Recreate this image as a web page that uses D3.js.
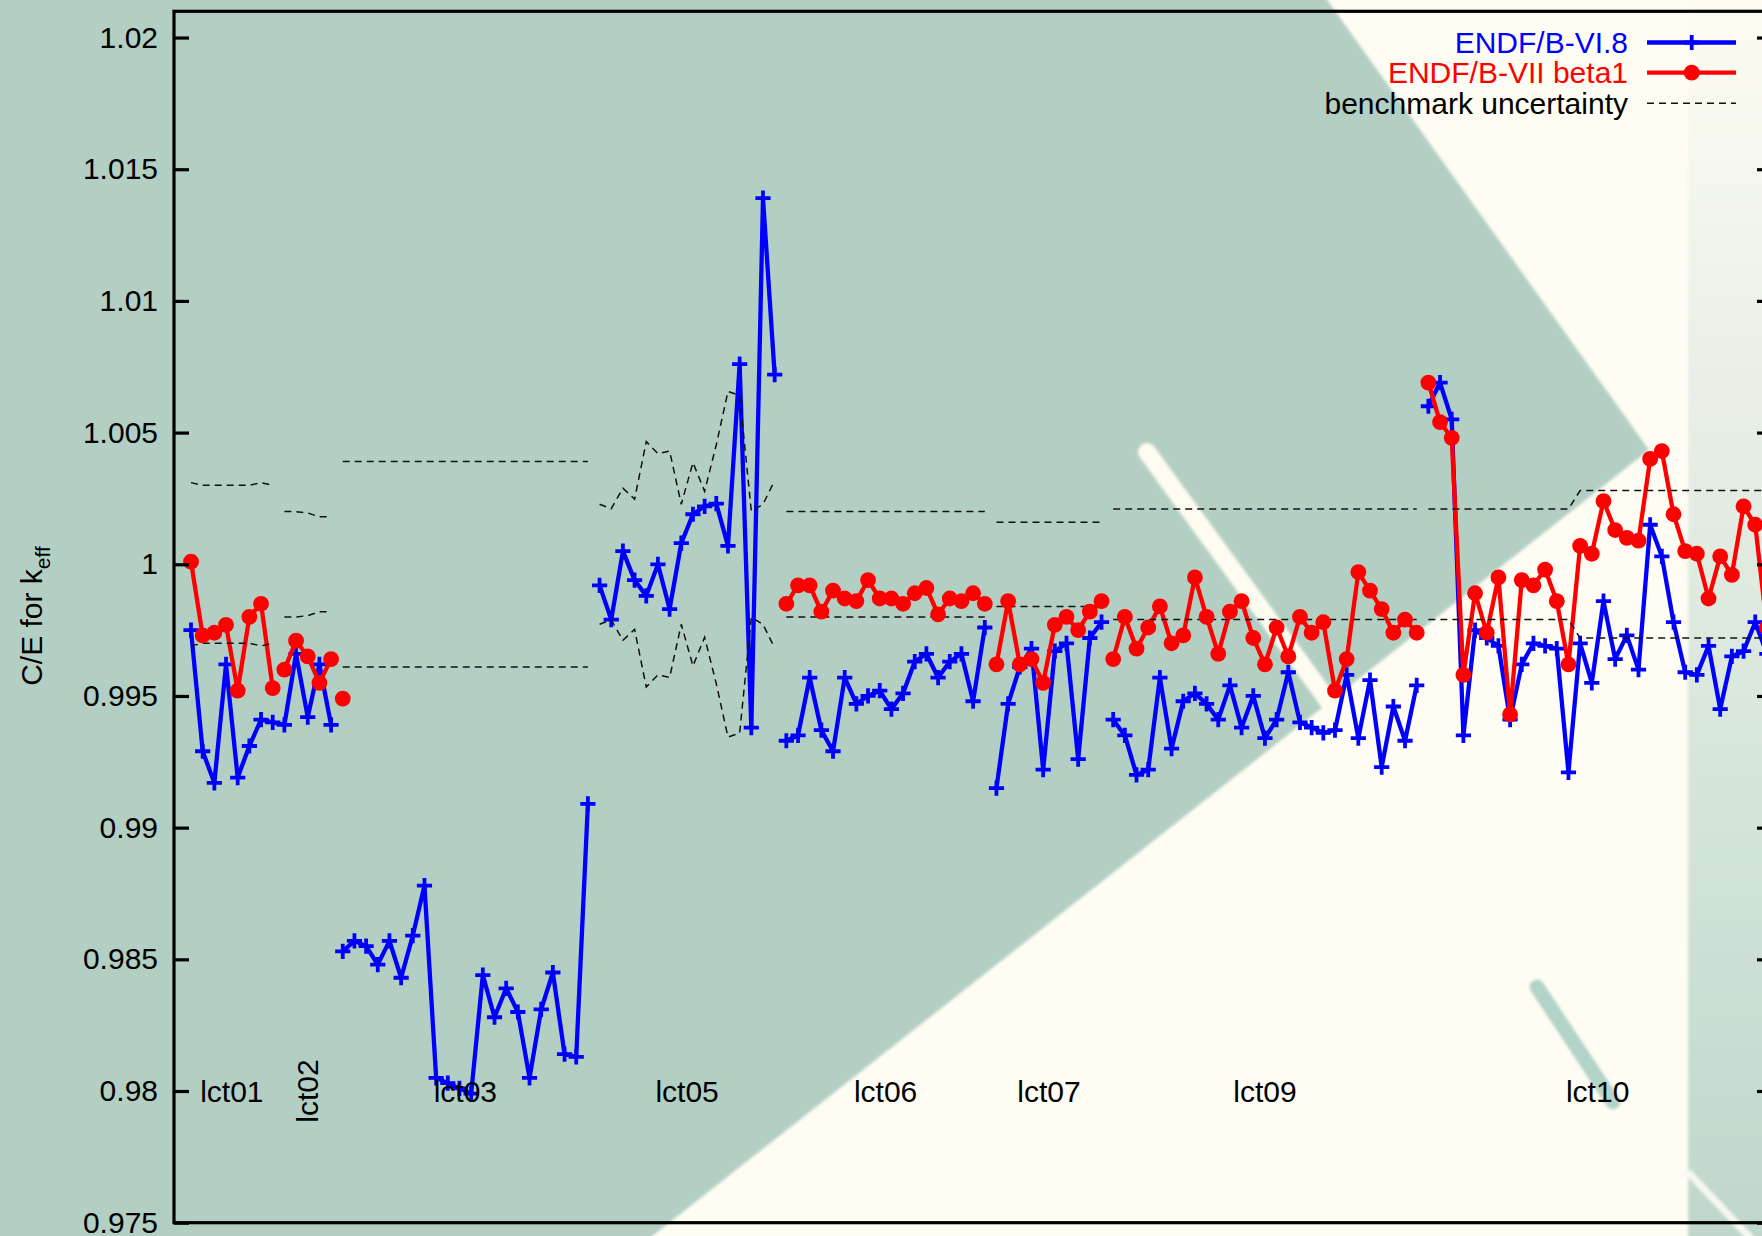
<!DOCTYPE html>
<html>
<head>
<meta charset="utf-8">
<script src="https://cdn.jsdelivr.net/npm/d3@7"></script>
<style>
	html, body { margin: 0; padding: 0; background: #b3cfc3; overflow: hidden; }
	svg { display: block; }
</style>
</head>
<body>
<div id="chart"></div>
<script>

// benchmark groups (case index ranges on the x axis)
var groupNames = ["lct01", "lct02", "lct03", "lct05", "lct06", "lct07", "lct09", "lct10"];
var groupFirst = [0, 8, 13, 35, 51, 69, 79, 106];
var groupLast  = [7, 12, 34, 50, 68, 78, 105, 135];
var groupRotated = ["lct02"];

// ENDF/B-VI.8 : [first case index, values...] (a new run = a break in the line)
var endf68 = [
	[0, [0.9975, 0.9929, 0.9917, 0.9962, 0.9919, 0.9931, 0.9941, 0.9940, 0.9939, 0.9966, 0.9942, 0.9962, 0.9939]],
	[13, [0.9853, 0.9857, 0.9855, 0.9848, 0.9857, 0.9843, 0.9859, 0.9878, 0.9805, 0.9803, 0.9801, 0.9799, 0.9844, 0.9828, 0.9839, 0.9830, 0.9805, 0.9831, 0.9845, 0.9814, 0.9813, 0.9909]],
	[35, [0.9992, 0.9979, 1.0005, 0.9994, 0.9988, 1.0000, 0.9983, 1.0008, 1.0019, 1.0022, 1.0023, 1.0007, 1.0076, 0.9938, 1.0139, 1.0072]],
	[51, [0.9933, 0.9935, 0.9957, 0.9937, 0.9929, 0.9957, 0.9947, 0.9950, 0.9952, 0.9945, 0.9951, 0.9963, 0.9966, 0.9957, 0.9963, 0.9966, 0.9948, 0.9976]],
	[69, [0.9915, 0.9947, 0.9961, 0.9968, 0.9922, 0.9967, 0.9970, 0.9926, 0.9972, 0.9978]],
	[79, [0.9941, 0.9935, 0.9920, 0.9922, 0.9957, 0.9930, 0.9948, 0.9951, 0.9947, 0.9941, 0.9954, 0.9938, 0.9950, 0.9934, 0.9941, 0.9959, 0.9940, 0.9938, 0.9936, 0.9937, 0.9958, 0.9934, 0.9956, 0.9923, 0.9946, 0.9933, 0.9954]],
	[106, [1.0060, 1.0069, 1.0055, 0.9935, 0.9975, 0.9972, 0.9969, 0.9941, 0.9962, 0.9970, 0.9969, 0.9968, 0.9921, 0.9970, 0.9955, 0.9986, 0.9964, 0.9973, 0.9960, 1.0015, 1.0003, 0.9978, 0.9959, 0.9958, 0.9969, 0.9945, 0.9965, 0.9967, 0.9978, 0.9966]]
];

// ENDF/B-VII beta1
var endf7b1 = [
	[0, [1.0001, 0.9973, 0.9974, 0.9977, 0.9952, 0.9980, 0.9985, 0.9953]],
	[8, [0.9960, 0.9971, 0.9965, 0.9955, 0.9964]],
	[13, [0.9949]],
	[51, [0.9985, 0.9992, 0.9992, 0.9982, 0.9990, 0.9987, 0.9986, 0.9994, 0.9987, 0.9987, 0.9985, 0.9989, 0.9991, 0.9981, 0.9987, 0.9986, 0.9989, 0.9985]],
	[69, [0.9962, 0.9986, 0.9962, 0.9964, 0.9955, 0.9977, 0.9980, 0.9975, 0.9982, 0.9986]],
	[79, [0.9964, 0.9980, 0.9968, 0.9976, 0.9984, 0.9970, 0.9973, 0.9995, 0.9980, 0.9966, 0.9982, 0.9986, 0.9972, 0.9962, 0.9976, 0.9965, 0.9980, 0.9974, 0.9978, 0.9952, 0.9964, 0.9997, 0.9990, 0.9983, 0.9974, 0.9979, 0.9974]],
	[106, [1.0069, 1.0054, 1.0048, 0.9958, 0.9989, 0.9974, 0.9995, 0.9943, 0.9994, 0.9992, 0.9998, 0.9986, 0.9962, 1.0007, 1.0004, 1.0024, 1.0013, 1.0010, 1.0009, 1.0040, 1.0043, 1.0019, 1.0005, 1.0004, 0.9987, 1.0003, 0.9996, 1.0022, 1.0015, 0.9976]]
];

// benchmark uncertainty (drawn at 1 +/- u)
var benchUnc = [
	[0, [0.0031, 0.0030, 0.0030, 0.0030, 0.0030, 0.0030, 0.0031, 0.0030]],
	[8, [0.0020, 0.0020, 0.00195, 0.0018, 0.0018]],
	[13, [0.0039, 0.0039, 0.0039, 0.0039, 0.0039, 0.0039, 0.0039, 0.0039, 0.0039, 0.0039, 0.0039, 0.0039, 0.0039, 0.0039, 0.0039, 0.0039, 0.0039, 0.0039, 0.0039, 0.0039, 0.0039, 0.0039]],
	[35, [0.00228, 0.00211, 0.00289, 0.00247, 0.00466, 0.0042, 0.0043, 0.00228, 0.00386, 0.00277, 0.00454, 0.00656, 0.00641, 0.00201, 0.00228, 0.00318]],
	[51, [0.0020, 0.0020, 0.0020, 0.0020, 0.0020, 0.0020, 0.0020, 0.0020, 0.0020, 0.0020, 0.0020, 0.0020, 0.0020, 0.0020, 0.0020, 0.0020, 0.0020, 0.0020]],
	[69, [0.0016, 0.0016, 0.0016, 0.0016, 0.0016, 0.0016, 0.0016, 0.0016, 0.0016, 0.0016]],
	[79, [0.0021, 0.0021, 0.0021, 0.0021, 0.0021, 0.0021, 0.0021, 0.0021, 0.0021, 0.0021, 0.0021, 0.0021, 0.0021, 0.0021, 0.0021, 0.0021, 0.0021, 0.0021, 0.0021, 0.0021, 0.0021, 0.0021, 0.0021, 0.0021, 0.0021, 0.0021, 0.0021]],
	[106, [0.0021, 0.0021, 0.0021, 0.0021, 0.0021, 0.0021, 0.0021, 0.0021, 0.0021, 0.0021, 0.0021, 0.0021, 0.0021, 0.0028, 0.0028, 0.0028, 0.0028, 0.0028, 0.0028, 0.0028, 0.0028, 0.0028, 0.0028, 0.0028, 0.0028, 0.0028, 0.0028, 0.0028, 0.0028, 0.0028]]
];

var yTicks = [0.975, 0.98, 0.985, 0.99, 0.995, 1, 1.005, 1.01, 1.015, 1.02];
var yTickLabels = ["0.975", "0.98", "0.985", "0.99", "0.995", "1", "1.005", "1.01", "1.015", "1.02"];

var seriesNames = ["ENDF/B-VI.8", "ENDF/B-VII beta1", "benchmark uncertainty"];


var width = 1762, height = 1236;
var frameLeft = 174, frameRight = 1772, frameTop = 11.3, frameBottom = 1222.7;
var font = "'Liberation Sans', Arial, Helvetica, sans-serif";
var lineW = 4.3, plusW = 3.8, plusR = 7.6, dotR = 7.9;

var svg = d3.select("#chart")
	.append("svg")
	.attr("width", width)
	.attr("height", height);

var defs = svg.append("defs");

var stripGrad = defs.append("linearGradient")
	.attr("id", "strip")
	.attr("gradientUnits", "userSpaceOnUse")
	.attr("x1", 0).attr("y1", 0).attr("x2", 0).attr("y2", height);
[[0, "#fcfbf1"], [0.12, "#f6f7ee"], [0.3, "#e9efe6"], [0.6, "#d8e6db"], [1, "#bfd7cb"]].forEach(function(s){
	stripGrad.append("stop").attr("offset", s[0]).attr("stop-color", s[1]);
});

defs.append("filter")
	.attr("id", "soft")
	.append("feGaussianBlur")
	.attr("stdDeviation", 1.6);

defs.append("clipPath")
	.attr("id", "plotclip")
	.append("rect")
	.attr("x", frameLeft).attr("y", frameTop)
	.attr("width", frameRight - frameLeft).attr("height", frameBottom - frameTop);

//photo-like background behind the plot
var bg = svg.append("g");
bg.append("rect")
	.attr("width", width).attr("height", height)
	.style("fill", "#b3cfc3");

var soft = bg.append("g").attr("filter", "url(#soft)");
soft.append("polygon")
	.attr("points", "1313,-20 1700,-20 1700,1260 622,1260 1649,450")
	.style("fill", "#fffdf3");
soft.append("rect")
	.attr("x", 1688).attr("y", -20).attr("width", 100).attr("height", height + 40)
	.style("fill", "url(#strip)");
soft.append("line")
	.attr("x1", 1688).attr("y1", 1172).attr("x2", 1754).attr("y2", 1242)
	.style("stroke", "#f7f8ef").style("stroke-width", 7);
soft.append("line")
	.attr("x1", 1147).attr("y1", 452).attr("x2", 1329).attr("y2", 702)
	.style("stroke", "#fefcf0").style("stroke-width", 18).style("stroke-linecap", "round");
soft.append("line")
	.attr("x1", 1537).attr("y1", 987).attr("x2", 1613).attr("y2", 1102)
	.style("stroke", "#b2d3c9").style("stroke-width", 15).style("stroke-linecap", "round");

var x = d3.scaleLinear().domain([0, 135]).range([191, 1766.9]);
var y = d3.scaleLinear().domain([0.975, 1.021]).range([frameBottom, 11.2]);

var toPoints = function(run, fn){
	return run[1].map(function(v, i){ return [run[0] + i, fn ? fn(v) : v]; });
};

var line = d3.line()
	.x(function(d){ return x(d[0]); })
	.y(function(d){ return y(d[1]); });

var plot = svg.append("g");
var clipped = plot.append("g").attr("clip-path", "url(#plotclip)");

//blue series: line + plus markers
clipped.selectAll(".blue-line")
	.data(endf68)
	.enter()
	.append("path")
	.attr("class", "blue-line")
	.attr("d", function(d){ return line(toPoints(d)); })
	.style("fill", "none")
	.style("stroke", "#0000ff")
	.style("stroke-width", lineW)
	.style("stroke-linejoin", "round");

var bluePts = [];
endf68.forEach(function(r){ bluePts = bluePts.concat(toPoints(r)); });
var plusPath = "M-" + plusR + ",0H" + plusR + "M0,-" + plusR + "V" + plusR;
clipped.selectAll(".blue-pt")
	.data(bluePts)
	.enter()
	.append("path")
	.attr("class", "blue-pt")
	.attr("transform", function(d){ return "translate(" + x(d[0]) + "," + y(d[1]) + ")"; })
	.attr("d", plusPath)
	.style("stroke", "#0000ff")
	.style("stroke-width", plusW);

//red series: line + dots
clipped.selectAll(".red-line")
	.data(endf7b1)
	.enter()
	.append("path")
	.attr("class", "red-line")
	.attr("d", function(d){ return line(toPoints(d)); })
	.style("fill", "none")
	.style("stroke", "#ff0000")
	.style("stroke-width", lineW)
	.style("stroke-linejoin", "round");

var redPts = [];
endf7b1.forEach(function(r){ redPts = redPts.concat(toPoints(r)); });
plot.selectAll(".red-pt")
	.data(redPts)
	.enter()
	.append("circle")
	.attr("class", "red-pt")
	.attr("cx", function(d){ return x(d[0]); })
	.attr("cy", function(d){ return y(d[1]); })
	.attr("r", dotR)
	.style("fill", "#ff0000");

//uncertainty band, upper and lower dashed lines
[1, -1].forEach(function(sign){
	clipped.selectAll(".unc" + sign)
		.data(benchUnc)
		.enter()
		.append("path")
		.attr("d", function(d){ return line(toPoints(d, function(u){ return 1 + sign * u; })); })
		.style("fill", "none")
		.style("stroke", "#111")
		.style("stroke-width", 1.5)
		.style("stroke-dasharray", "7,5");
});

//frame and ticks
svg.append("rect")
	.attr("x", frameLeft).attr("y", frameTop)
	.attr("width", frameRight - frameLeft).attr("height", frameBottom - frameTop)
	.style("fill", "none")
	.style("stroke", "#000")
	.style("stroke-width", 3.2);

var yAxis = svg.append("g")
	.attr("transform", "translate(" + frameLeft + ",0)")
	.call(d3.axisLeft(y)
		.tickValues(yTicks)
		.tickSizeInner(-15)
		.tickSizeOuter(0)
		.tickPadding(16)
		.tickFormat(function(d, i){ return yTickLabels[i]; }));
yAxis.select(".domain").remove();
yAxis.selectAll(".tick line").style("stroke", "#000").style("stroke-width", 3.2);
yAxis.selectAll(".tick text")
	.style("font-family", font)
	.style("font-size", "30px")
	.style("fill", "#000");

var yAxisR = svg.append("g")
	.attr("transform", "translate(" + frameRight + ",0)")
	.call(d3.axisRight(y)
		.tickValues(yTicks)
		.tickSizeInner(-15)
		.tickSizeOuter(0)
		.tickFormat(""));
yAxisR.select(".domain").remove();
yAxisR.selectAll(".tick line").style("stroke", "#000").style("stroke-width", 3.2);

//y label with subscript
var ylab = svg.append("text")
	.attr("transform", "translate(31," + 616 + ") rotate(-90)")
	.attr("text-anchor", "middle")
	.attr("dy", "0.35em")
	.style("font-family", font)
	.style("font-size", "30px")
	.style("fill", "#000");
ylab.append("tspan").text("C/E for k");
ylab.append("tspan").attr("dy", 8).style("font-size", "21px").text("eff");

//group labels at C/E = 0.98
svg.selectAll(".grp")
	.data(groupNames)
	.enter()
	.append("text")
	.attr("class", "grp")
	.attr("transform", function(d, i){
		var cx = x((groupFirst[i] + groupLast[i]) / 2);
		var rot = groupRotated.indexOf(d) >= 0 ? " rotate(-90)" : "";
		return "translate(" + cx + "," + y(0.98) + ")" + rot;
	})
	.attr("text-anchor", "middle")
	.attr("dy", "0.35em")
	.style("font-family", font)
	.style("font-size", "30px")
	.style("fill", "#000")
	.text(function(d){ return d; });

//legend
var legColors = ["#0000ff", "#ff0000", "#000"];
var legY = [42.5, 72.7, 103.2];
var leg = svg.append("g");
leg.selectAll("text")
	.data(seriesNames)
	.enter()
	.append("text")
	.attr("x", 1628)
	.attr("y", function(d, i){ return legY[i]; })
	.attr("dy", "0.35em")
	.attr("text-anchor", "end")
	.style("font-family", font)
	.style("font-size", "30px")
	.style("fill", function(d, i){ return legColors[i]; })
	.text(function(d){ return d; });

leg.selectAll("line")
	.data(seriesNames)
	.enter()
	.append("line")
	.attr("x1", 1647).attr("x2", 1736)
	.attr("y1", function(d, i){ return legY[i]; })
	.attr("y2", function(d, i){ return legY[i]; })
	.style("stroke", function(d, i){ return i == 2 ? "#111" : legColors[i]; })
	.style("stroke-width", function(d, i){ return i == 2 ? 1.5 : lineW; })
	.style("stroke-dasharray", function(d, i){ return i == 2 ? "7,5" : null; });

leg.append("path")
	.attr("transform", "translate(1691.7," + legY[0] + ")")
	.attr("d", plusPath)
	.style("stroke", "#0000ff")
	.style("stroke-width", plusW);
leg.append("circle")
	.attr("cx", 1691.7).attr("cy", legY[1]).attr("r", dotR)
	.style("fill", "#ff0000");

</script>
</body>
</html>
